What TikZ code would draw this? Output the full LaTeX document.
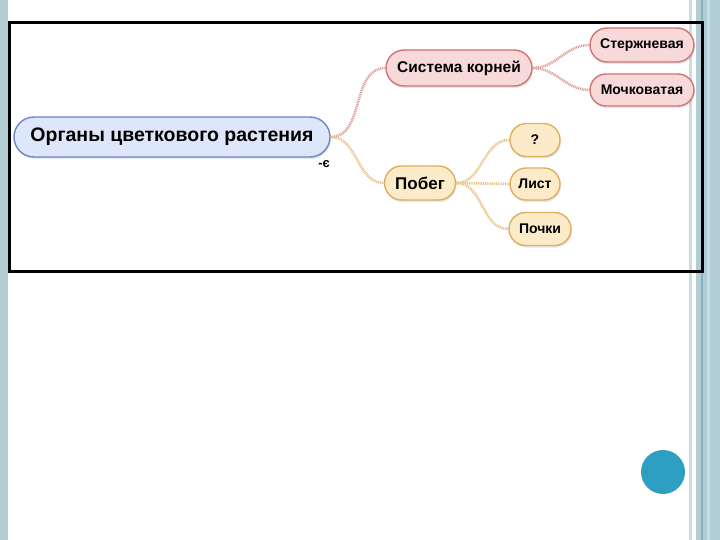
\documentclass[tikz,border=0pt]{standalone}
\usepackage{fontspec}
\setmainfont{Liberation Sans}
\usetikzlibrary{positioning,shapes.misc,shadows}

\definecolor{stripe}{HTML}{B3CDD5}
\definecolor{stripelight}{HTML}{C9DEE4}
\definecolor{stripedark}{HTML}{86B2BF}
\definecolor{dotblue}{HTML}{2E9FC2}
\definecolor{rootfill}{HTML}{DEE6FA}
\definecolor{rootdraw}{HTML}{6E86CA}
\definecolor{rootfill2}{HTML}{F8D9D9}
\definecolor{rootdraw2}{HTML}{D27472}
\definecolor{shootfill}{HTML}{FCEBC9}
\definecolor{shootdraw}{HTML}{DFAF5E}

\begin{document}
\begin{tikzpicture}[x=1pt,y=-1pt,
   every node/.style={font=\bfseries},
   bubble/.style={rounded rectangle,line width=1.4pt,inner sep=0pt,
     drop shadow={opacity=0.2,shadow xshift=1pt,shadow yshift=-2pt}},
   mainbox/.style={bubble,fill=rootfill,draw=rootdraw,font=\bfseries\fontsize{19.5}{22}\selectfont},
   rootbox/.style={bubble,fill=rootfill2,draw=rootdraw2},
   shootbox/.style={bubble,fill=shootfill,draw=shootdraw},
   bigtext/.style={font=\bfseries\fontsize{15.5}{18}\selectfont},
   smalltext/.style={font=\bfseries\fontsize{14}{16}\selectfont},
   rootlink/.style={draw=rootdraw2!70,line width=2.6pt,dash pattern=on 1pt off 0.8pt},
   shootlink/.style={draw=shootdraw!75,line width=2.6pt,dash pattern=on 1pt off 0.8pt}]
  % slide background
  \useasboundingbox (0,0) rectangle (720,540);
  \fill[stripe] (0,0) rectangle (8,540);
  \fill[stripelight] (689,0) rectangle (692,540);
  \fill[stripe] (696,0) rectangle (720,540);
  \fill[stripedark] (701,0) rectangle (703,540);
  \fill[stripelight] (707,0) rectangle (710,540);
  \draw[line width=3pt] (9.5,22.5) rectangle (702,271);
  \fill[dotblue] (663,472) circle (22);

  % mind map
  \node[mainbox,minimum width=316pt,minimum height=40pt] (plant) at (172,137) {Органы цветкового растения};
  \node[font=\bfseries\fontsize{13}{14}\selectfont,inner sep=0pt] (mark) at (324,164) {-є};

  \node[rootbox,bigtext,minimum width=146pt,minimum height=36pt] (roots) at (459,68) {Система корней};
  \node[rootbox,smalltext,minimum width=104pt,minimum height=34pt] (taproot) at (642,45) {Стержневая};
  \node[rootbox,smalltext,minimum width=104pt,minimum height=32pt] (fibrous) at (642,90) {Мочковатая};

  \node[shootbox,bigtext,minimum width=71pt,minimum height=34pt,font=\bfseries\fontsize{17}{20}\selectfont] (shoot) at (420,183) {Побег};
  \node[shootbox,smalltext,minimum width=50pt,minimum height=33pt] (stem) at (535,140) {?};
  \node[shootbox,smalltext,minimum width=50pt,minimum height=32pt] (leaf) at (535,184) {Лист};
  \node[shootbox,smalltext,minimum width=62pt,minimum height=33pt] (buds) at (540,229) {Почки};

  \path[rootlink] (plant.east) to[out=0,in=180] (roots.west);
  \path[shootlink] (plant.east) to[out=0,in=180] (shoot.west);
  \path[rootlink] (roots.east) to[out=0,in=180] (taproot.west);
  \path[rootlink] (roots.east) to[out=0,in=180] (fibrous.west);
  \path[shootlink] (shoot.east) to[out=0,in=180] (stem.west);
  \path[shootlink] (shoot.east) -- (leaf.west);
  \path[shootlink] (shoot.east) to[out=0,in=180] (buds.west);
\end{tikzpicture}
\end{document}
